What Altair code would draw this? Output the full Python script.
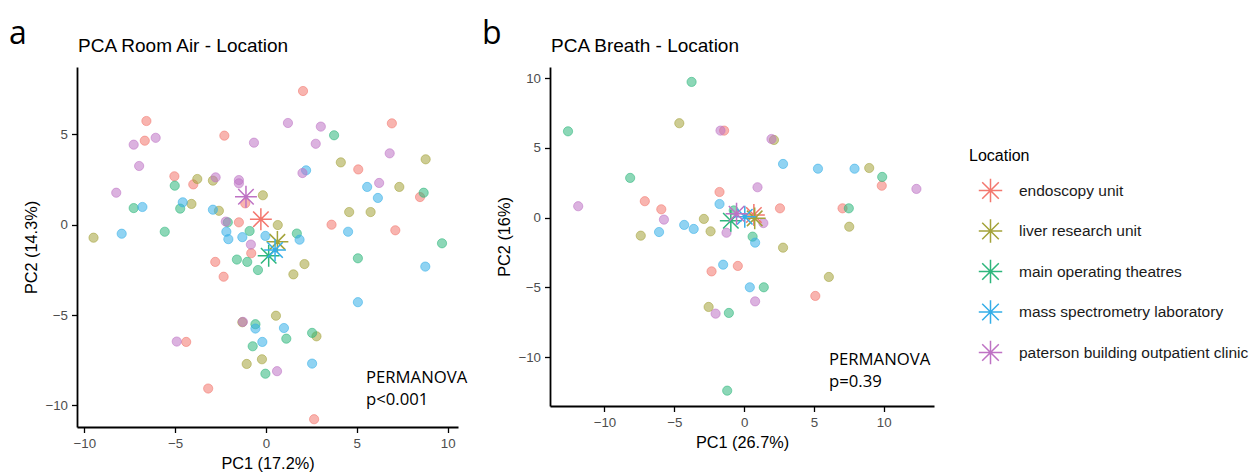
import altair as alt
import pandas as pd

LOCATIONS = ["endoscopy unit", "liver research unit", "main operating theatres",
             "mass spectrometry laboratory", "paterson building outpatient clinic"]
COLORS = ["#F3776E", "#A4A33A", "#2DB67C", "#35AEE8", "#BE72C4"]

# ---------- Panel a: PCA Room Air ----------
air_endo_x = [2.04, -6.58, -6.67, -2.29, 6.93, 5.08, 8.48, 3.61, 7.12, -5.04, -4.0, -1.14, -1.49, -0.81, -2.79, -2.33, -4.39, -3.18, 2.65]
air_endo_y = [7.40, 5.74, 4.65, 4.93, 5.61, 3.06, 1.53, 0.0, -0.31, 2.68, 2.23, 1.18, 0.13, -1.58, -2.06, -2.88, -6.49, -9.07, -10.77]
air_liver_x = [8.79, 4.12, 7.34, 4.58, 5.76, -3.78, -2.92, -0.17, -4.10, -2.59, 0.65, -9.49, 1.51, 2.12, 0.55, -1.30, 2.78, -0.22, -1.06]
air_liver_y = [3.62, 3.45, 2.09, 0.70, 0.70, 2.53, 2.44, 1.63, 1.15, 0.77, -0.02, -0.72, -2.75, -2.18, -5.04, -5.40, -6.18, -7.45, -7.71]
air_main_x = [3.75, 8.68, 9.69, -5.02, -7.28, -4.72, -2.10, -5.57, -0.90, 1.70, -1.60, -1.03, -0.44, 5.06, -0.58, 1.12, 2.54, -0.73, -0.03]
air_main_y = [4.95, 1.77, -1.03, 2.16, 0.92, 0.89, 0.13, -0.39, -0.35, -0.49, -1.93, -2.06, -2.51, -1.86, -5.51, -6.31, -5.99, -6.73, -8.25]
air_mass_x = [2.21, 5.57, 6.16, -6.80, -4.58, -2.92, -7.94, 4.52, -2.18, -2.07, -1.30, -0.03, 1.85, 8.77, 5.06, -0.58, 0.99, -0.20, 2.54]
air_mass_y = [3.01, 2.09, 1.48, 0.98, 1.24, 0.83, -0.50, -0.39, -0.39, -0.80, -0.69, -0.62, -0.83, -2.32, -4.29, -5.75, -5.72, -6.49, -7.69]
air_pat_x = [-6.07, -7.28, -6.98, -8.24, -0.66, 1.21, 3.02, 2.74, 6.81, 2.01, 6.23, -2.77, -1.49, -1.49, -2.21, -0.83, -1.27, -4.91, 0.61]
air_pat_y = [4.81, 4.43, 3.25, 1.77, 4.54, 5.63, 5.43, 4.48, 3.95, 2.86, 2.31, 2.62, 2.47, 2.29, 0.17, -1.10, -5.38, -6.47, -8.11]
air_cent_x = [-0.28, 0.63, 0.15, 0.50, -1.10]
air_cent_y = [0.30, -0.95, -1.72, -1.40, 1.55]

# ---------- Panel b: PCA Breath ----------
br_endo_x = [-1.43, 9.86, -7.11, -5.93, -1.76, 2.57, 7.05, -0.45, -2.33, 5.10]
br_endo_y = [6.24, 2.29, 1.18, 0.60, 1.84, 0.67, 0.67, -3.46, -3.85, -5.61]
br_liver_x = [-4.64, 2.14, 8.96, 7.53, -2.88, -2.40, -7.40, 2.79, 6.07, -2.54]
br_liver_y = [6.77, 5.57, 3.56, -0.65, -0.09, -0.98, -1.29, -2.15, -4.25, -6.40]
br_main_x = [-3.76, -12.61, 9.89, -8.16, 7.50, -0.74, 0.61, 1.41, -1.09, -1.21]
br_main_y = [9.73, 6.19, 2.92, 2.85, 0.67, 0.52, -1.36, -4.99, -6.83, -12.40]
br_mass_x = [2.79, 5.29, 7.91, -1.76, -4.29, -3.61, -6.09, 0.79, -1.50, 0.41]
br_mass_y = [3.85, 3.51, 3.51, 0.98, -0.52, -0.81, -1.03, -1.79, -3.37, -4.99]
br_pat_x = [-1.69, 1.96, 12.34, -11.88, -5.74, 0.96, -1.26, 1.38, 0.79, -2.04]
br_pat_y = [6.24, 5.64, 2.06, 0.82, -0.14, 2.18, -1.08, -0.39, -6.00, -6.88]
br_cent_x = [0.70, 0.76, -0.95, 0.05, -0.54]
br_cent_y = [0.19, -0.05, -0.22, 0.07, 0.28]

ASTER = "M-1,0L1,0M0,-1L0,1M-0.707,-0.707L0.707,0.707M-0.707,0.707L0.707,-0.707"


def build(groups):
    rows = []
    for loc, xs, ys in groups:
        for x, y in zip(xs, ys):
            rows.append({"Group": loc, "PC1": x, "PC2": y})
    return pd.DataFrame(rows)


air_df = build([(LOCATIONS[0], air_endo_x, air_endo_y), (LOCATIONS[1], air_liver_x, air_liver_y),
                (LOCATIONS[2], air_main_x, air_main_y), (LOCATIONS[3], air_mass_x, air_mass_y),
                (LOCATIONS[4], air_pat_x, air_pat_y)])
air_cdf = pd.DataFrame({"Location": LOCATIONS, "PC1": air_cent_x, "PC2": air_cent_y})
br_df = build([(LOCATIONS[0], br_endo_x, br_endo_y), (LOCATIONS[1], br_liver_x, br_liver_y),
               (LOCATIONS[2], br_main_x, br_main_y), (LOCATIONS[3], br_mass_x, br_mass_y),
               (LOCATIONS[4], br_pat_x, br_pat_y)])
br_cdf = pd.DataFrame({"Location": LOCATIONS, "PC1": br_cent_x, "PC2": br_cent_y})

LEGEND = alt.Legend(title="Location", orient="none", legendX=892, legendY=81,
                    symbolType=ASTER, symbolSize=550, symbolStrokeWidth=1.5,
                    symbolOffset=9, labelFontSize=15.5, titleFontSize=16,
                    titleFontWeight="normal", labelOffset=16, rowPadding=9.5,
                    titlePadding=14, labelColor="#1a1a1a", titleColor="black",
                    labelLimit=400)


def panel(df, cdf, title, xt, yt, xdom, ydom, w, h, ann, ann_x, ann_y, letter):
    cscale = alt.Scale(domain=LOCATIONS, range=COLORS)
    pscale = alt.Scale(range=COLORS)  # data-driven domain (alphabetical = LOCATIONS order)
    xs = alt.Scale(domain=xdom, nice=False, zero=False)
    ys = alt.Scale(domain=ydom, nice=False, zero=False)
    xax = alt.Axis(values=[-10, -5, 0, 5, 10], title=xt, titlePadding=6)
    yax = alt.Axis(values=[-10, -5, 0, 5, 10], title=yt, titlePadding=5.5)
    pts = alt.Chart(df).mark_circle(size=85, fillOpacity=0.55, strokeOpacity=0.55,
                                    strokeWidth=1).encode(
        x=alt.X("PC1:Q", scale=xs, axis=xax),
        y=alt.Y("PC2:Q", scale=ys, axis=yax),
        fill=alt.Fill("Group:N", scale=pscale, legend=None),
        stroke=alt.Stroke("Group:N", scale=pscale, legend=None),
    )
    cen = alt.Chart(cdf).mark_point(shape=ASTER, size=480, filled=False,
                                    strokeWidth=1.5, opacity=1).encode(
        x="PC1:Q", y="PC2:Q",
        color=alt.Color("Location:N", scale=cscale, legend=LEGEND),
    )
    one = pd.DataFrame({"k": [0]})
    txt = alt.Chart(one).mark_text(align="left", baseline="alphabetic", fontSize=16.7,
                                   font="Open Sans", color="black", lineHeight=22).encode(
        x=alt.value(ann_x), y=alt.value(ann_y), text=alt.value(ann))
    let = alt.Chart(one).mark_text(align="left", baseline="alphabetic", fontSize=32,
                                   font="Open Sans", color="black").encode(
        x=alt.value(-68), y=alt.value(-23), text=alt.value(letter))
    ttl = alt.Chart(one).mark_text(align="left", baseline="alphabetic", fontSize=19,
                                   font="Liberation Sans", color="black").encode(
        x=alt.value(1), y=alt.value(-15), text=alt.value(title))
    return alt.layer(pts, cen, txt, let, ttl).properties(width=w, height=h)


pa = panel(air_df, air_cdf, "PCA Room Air - Location", "PC1 (17.2%)", "PC2 (14.3%)",
           [-10.4, 10.57], [-11.2, 8.73], 381, 360, ["PERMANOVA", "p<0.001"], 289, 316, "a")
pb = panel(br_df, br_cdf, "PCA Breath - Location", "PC1 (26.7%)", "PC2 (16%)",
           [-13.9, 13.6], [-13.5, 10.8], 384, 339, ["PERMANOVA", "p=0.39"], 279, 298, "b")

chart = alt.hconcat(pa, pb, spacing=14).properties(
    padding={"left": 1, "top": 10, "right": 0, "bottom": 5}
).configure(font="Liberation Sans").configure_axis(
    domainColor="black", domainWidth=1.8, tickColor="black", tickWidth=1.3, tickSize=5.5,
    labelColor="#4D4D4D", labelFontSize=13.3, labelFont="Liberation Sans", labelPadding=4,
    titleFont="Liberation Sans", titleFontSize=16.3, titleFontWeight="normal", titleColor="black",
    grid=False
).configure_view(stroke=None)

chart.save("out.html", embed_options={"renderer": "svg", "actions": False})
